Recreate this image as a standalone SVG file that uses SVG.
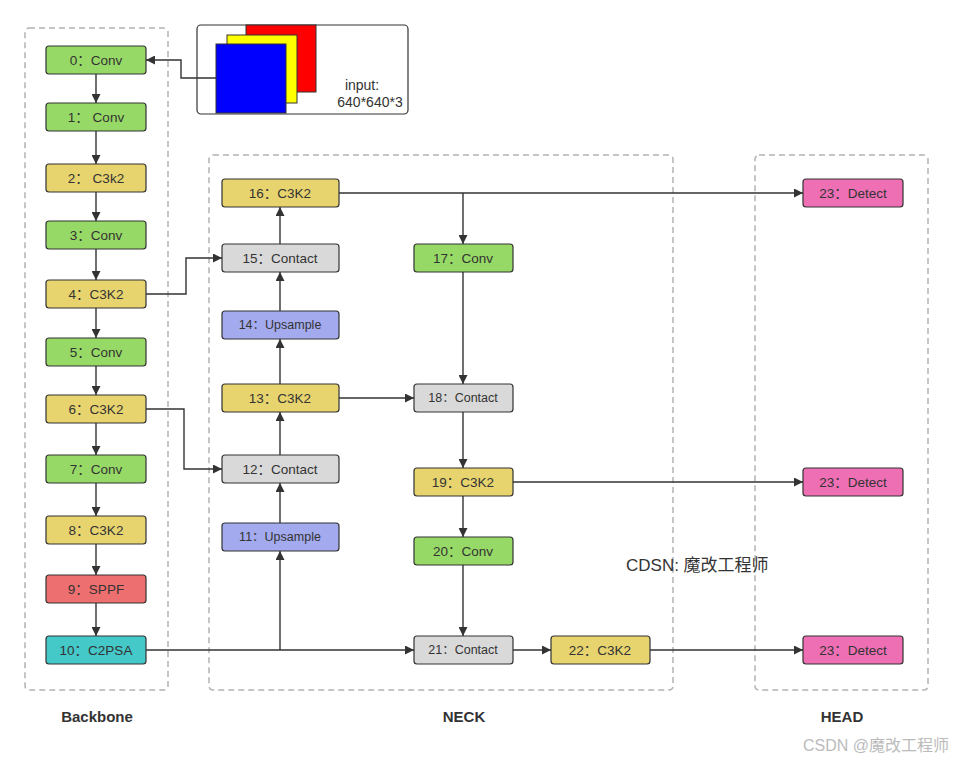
<svg xmlns="http://www.w3.org/2000/svg" width="953" height="762" viewBox="0 0 953 762">
<style>
.g{fill:none;stroke:#b3b3b3;stroke-width:1.5;stroke-dasharray:6 4}
.n rect{stroke:#333;stroke-width:1.2}
.n text{font-family:"Liberation Sans","Noto Sans CJK SC",sans-serif;font-size:13.5px;fill:#333;text-anchor:middle;dominant-baseline:central}
.c path{fill:none;stroke:#333;stroke-width:1.4;marker-end:url(#a)}
.c path.p{marker-end:none}
.gr{fill:#97d966}.ye{fill:#e8d46f}.gy{fill:#d9d9d9}.bl{fill:#a3aaee}.rd{fill:#ee6f6f}.tl{fill:#44c8c8}.pk{fill:#ee6fb3}
.lb{font-family:"Liberation Sans",sans-serif;font-weight:bold;font-size:15px;fill:#333;text-anchor:middle}
</style>
<defs><marker id="a" viewBox="0 0 10 10" refX="10" refY="5" markerWidth="9" markerHeight="9" markerUnits="userSpaceOnUse" orient="auto"><path d="M0,0L10,5L0,10z" fill="#333"/></marker></defs>
<rect width="953" height="762" fill="#fff"/>
<rect class="g" x="25" y="28" width="143" height="662" rx="4"/>
<rect class="g" x="209" y="155" width="464" height="535" rx="4"/>
<rect class="g" x="755" y="155" width="173" height="535" rx="4"/>
<g id="input">
<rect x="197" y="25" width="211" height="89" rx="4" fill="#fff" stroke="#333" stroke-width="1.2"/>
<rect x="246" y="25" width="70" height="67" fill="#f00" stroke="#333"/>
<rect x="227" y="35" width="70" height="68" fill="#ff0" stroke="#333"/>
<rect x="216" y="44" width="70" height="69" fill="#00f" stroke="#333"/>
<text x="362" y="90" font-family="Liberation Sans,sans-serif" font-size="14" fill="#333" text-anchor="middle">input:</text>
<text x="370" y="107" font-family="Liberation Sans,sans-serif" font-size="14" fill="#333" text-anchor="middle">640*640*3</text>
</g>
<g class="c">
<path d="M216,78H181V60H146"/>
<path d="M96,74V103"/><path d="M96,131V164"/><path d="M96,192V221"/><path d="M96,249V280"/><path d="M96,308V338"/><path d="M96,366V395"/><path d="M96,423V455"/><path d="M96,483V516"/><path d="M96,544V575"/><path d="M96,603V636"/>
<path d="M146,294H186V258H222"/>
<path d="M146,409H184V469H222"/>
<path d="M146,650H414"/>
<path d="M280,650V551"/>
<path d="M280,523V483"/><path d="M280,455V412"/><path d="M280,384V339"/><path d="M280,311V272"/><path d="M280,244V207"/>
<path d="M339,193H803"/>
<path d="M463,193V244"/>
<path d="M463,272V384"/>
<path d="M339,398H414"/>
<path d="M463,412V468"/>
<path d="M513,482H803"/>
<path d="M463,496V537"/>
<path d="M463,565V636"/>
<path d="M513,650H551"/>
<path d="M650,650H803"/>
</g>
<g id="n0" class="n"><rect class="gr" x="46" y="46" width="100" height="28" rx="3"/><text x="96" y="60">0：Conv</text></g>
<g id="n1" class="n"><rect class="gr" x="46" y="103" width="100" height="28" rx="3"/><text x="96" y="117">1： Conv</text></g>
<g id="n2" class="n"><rect class="ye" x="46" y="164" width="100" height="28" rx="3"/><text x="96" y="178">2： C3k2</text></g>
<g id="n3" class="n"><rect class="gr" x="46" y="221" width="100" height="28" rx="3"/><text x="96" y="235">3：Conv</text></g>
<g id="n4" class="n"><rect class="ye" x="46" y="280" width="100" height="28" rx="3"/><text x="96" y="294">4：C3K2</text></g>
<g id="n5" class="n"><rect class="gr" x="46" y="338" width="100" height="28" rx="3"/><text x="96" y="352">5：Conv</text></g>
<g id="n6" class="n"><rect class="ye" x="46" y="395" width="100" height="28" rx="3"/><text x="96" y="409">6：C3K2</text></g>
<g id="n7" class="n"><rect class="gr" x="46" y="455" width="100" height="28" rx="3"/><text x="96" y="469">7：Conv</text></g>
<g id="n8" class="n"><rect class="ye" x="46" y="516" width="100" height="28" rx="3"/><text x="96" y="530">8：C3K2</text></g>
<g id="n9" class="n"><rect class="rd" x="46" y="575" width="100" height="28" rx="3"/><text x="96" y="589">9：SPPF</text></g>
<g id="n10" class="n"><rect class="tl" x="46" y="636" width="100" height="28" rx="3"/><text x="96" y="650">10：C2PSA</text></g>
<g id="n16" class="n"><rect class="ye" x="222" y="179" width="117" height="28" rx="3"/><text x="280" y="193">16：C3K2</text></g>
<g id="n15" class="n"><rect class="gy" x="222" y="244" width="117" height="28" rx="3"/><text x="280" y="258">15：Contact</text></g>
<g id="n14" class="n"><rect class="bl" x="222" y="311" width="117" height="28" rx="3"/><text x="280" y="325" style="font-size:12.5px">14：Upsample</text></g>
<g id="n13" class="n"><rect class="ye" x="222" y="384" width="117" height="28" rx="3"/><text x="280" y="398">13：C3K2</text></g>
<g id="n12" class="n"><rect class="gy" x="222" y="455" width="117" height="28" rx="3"/><text x="280" y="469">12：Contact</text></g>
<g id="n11" class="n"><rect class="bl" x="222" y="523" width="117" height="28" rx="3"/><text x="280" y="537" style="font-size:12.5px">11：Upsample</text></g>
<g id="n17" class="n"><rect class="gr" x="414" y="244" width="99" height="28" rx="3"/><text x="463" y="258">17：Conv</text></g>
<g id="n18" class="n"><rect class="gy" x="414" y="384" width="99" height="28" rx="3"/><text x="463" y="398" style="font-size:12.5px">18：Contact</text></g>
<g id="n19" class="n"><rect class="ye" x="414" y="468" width="99" height="28" rx="3"/><text x="463" y="482">19：C3K2</text></g>
<g id="n20" class="n"><rect class="gr" x="414" y="537" width="99" height="28" rx="3"/><text x="463" y="551">20：Conv</text></g>
<g id="n21" class="n"><rect class="gy" x="414" y="636" width="99" height="28" rx="3"/><text x="463" y="650" style="font-size:12.5px">21：Contact</text></g>
<g id="n22" class="n"><rect class="ye" x="551" y="636" width="99" height="28" rx="3"/><text x="600" y="650">22：C3K2</text></g>
<g id="d1" class="n"><rect class="pk" x="803" y="179" width="100" height="28" rx="3"/><text x="853" y="193">23：Detect</text></g>
<g id="d2" class="n"><rect class="pk" x="803" y="468" width="100" height="28" rx="3"/><text x="853" y="482">23：Detect</text></g>
<g id="d3" class="n"><rect class="pk" x="803" y="636" width="100" height="28" rx="3"/><text x="853" y="650">23：Detect</text></g>
<text class="lb" x="97" y="722">Backbone</text>
<text class="lb" x="464" y="722">NECK</text>
<text class="lb" x="842" y="722">HEAD</text>
<text x="626" y="571" font-family="Liberation Sans,'Noto Sans CJK SC',sans-serif" font-size="17" fill="#333">CDSN: 魔改工程师</text>
<text x="949" y="751" font-family="Liberation Sans,'Noto Sans CJK SC',sans-serif" font-size="16" fill="#bbb" text-anchor="end">CSDN @魔改工程师</text>
</svg>
